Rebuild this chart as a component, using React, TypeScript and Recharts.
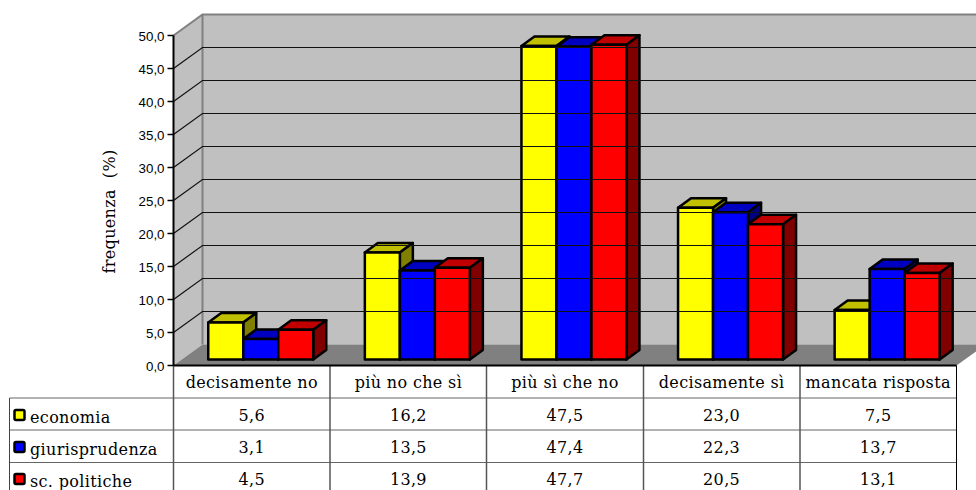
import { BarChart, Bar, XAxis, YAxis, ReferenceLine } from "recharts";

const categories = ["decisamente no", "più no che sì", "più sì che no", "decisamente sì", "mancata risposta"];
const economia = [5.6, 16.2, 47.5, 23.0, 7.5];
const giurisprudenza = [3.1, 13.5, 47.4, 22.3, 13.7];
const politiche = [4.5, 13.9, 47.7, 20.5, 13.1];
const seriesNames = ["economia", "giurisprudenza", "sc. politiche"];
const yTicks = [0, 5, 10, 15, 20, 25, 30, 35, 40, 45, 50];
const gridValues = [5, 10, 15, 20, 25, 30, 35, 40, 45];

const data = categories.map((name, i) => ({
  name,
  economia: economia[i],
  giurisprudenza: giurisprudenza[i],
  politiche: politiche[i],
}));
const rows = [economia, giurisprudenza, politiche];

const W = 976;
const H = 490;
const LEFT = 173.5;
const RIGHT = 956.5;
const TOP = 35.5;
const BASE = 365.5;
const WALL_DX = 29;
const WALL_DY = 21;
const SERIF = "'DejaVu Serif', serif";
const SANS = "'Liberation Sans', Arial, sans-serif";
const rowLines = [398, 430, 462.5];
const colLines = [173.5, 330, 486.5, 643.5, 800, 956.5];
const rowBaselines = [421, 453, 485];
const keyY = [410, 442, 474];
const keyColors = ["#ffff00", "#0000ff", "#ff0000"];
const TABLE_FONT = { fontFamily: SERIF, fontSize: 16, letterSpacing: 0.35, fill: "#000" };

const fmt = (v: number) => v.toFixed(1).replace(".", ",");

// cuboid standing on the floor, a bit behind the front edge
function box(front: string, top: string, side: string) {
  return (props: any) => {
    const { x, y, width, height } = props;
    const fx = x + 9;
    const fy = y - 6;
    const dx = 13;
    const dy = 9.5;
    return (
      <g stroke="#000" strokeWidth={2.5} strokeLinejoin="round">
        <polygon
          points={`${fx},${fy} ${fx + dx},${fy - dy} ${fx + width + dx},${fy - dy} ${fx + width},${fy}`}
          fill={top}
        />
        <polygon
          points={`${fx + width},${fy} ${fx + width + dx},${fy - dy} ${fx + width + dx},${fy + height - dy} ${fx + width},${fy + height}`}
          fill={side}
        />
        <rect x={fx} y={fy} width={width} height={height} fill={front} />
      </g>
    );
  };
}

// gridline runs up the side wall and then along the back wall
function wallLine(props: any) {
  const { x1, x2, y1 } = props;
  return (
    <polyline
      points={`${x1},${y1} ${x1 + WALL_DX},${y1 - WALL_DY} ${x2 + WALL_DX + 20},${y1 - WALL_DY}`}
      fill="none"
      stroke="#111"
      strokeWidth={1.2}
    />
  );
}

function TableTick(props: any) {
  const { x, payload, index } = props;
  return (
    <g style={TABLE_FONT} textAnchor="middle">
      <text x={x} y={388} style={TABLE_FONT}>{payload.value}</text>
      {rows.map((r, i) => (
        <text key={i} x={x} y={rowBaselines[i]} style={TABLE_FONT}>{fmt(r[index])}</text>
      ))}
    </g>
  );
}

export default function App() {
  return (
    <div style={{ position: "absolute", left: 0, top: 0, width: W, height: H, overflow: "hidden", background: "#fff" }}>
      <BarChart
        width={W}
        height={H}
        data={data}
        margin={{ top: TOP, right: W - RIGHT, bottom: 0, left: LEFT - 60 }}
        barGap={0}
        barCategoryGap={25.75}
      >
        {/* walls and floor */}
        <polygon
          points={`${LEFT + WALL_DX},${TOP - WALL_DY} ${W + 20},${TOP - WALL_DY} ${W + 20},${BASE - WALL_DY} ${LEFT + WALL_DX},${BASE - WALL_DY}`}
          fill="#c0c0c0"
        />
        <polygon
          points={`${LEFT},${TOP} ${LEFT + WALL_DX},${TOP - WALL_DY} ${LEFT + WALL_DX},${BASE - WALL_DY} ${LEFT},${BASE}`}
          fill="#c0c0c0"
        />
        <polygon
          points={`${LEFT},${BASE} ${LEFT + WALL_DX},${BASE - WALL_DY} ${RIGHT + WALL_DX},${BASE - WALL_DY} ${RIGHT},${BASE}`}
          fill="#808080"
        />
        <polyline
          points={`${LEFT},${TOP} ${LEFT + WALL_DX},${TOP - WALL_DY} ${W + 20},${TOP - WALL_DY}`}
          fill="none"
          stroke="#808080"
          strokeWidth={2}
        />
        <line x1={LEFT + WALL_DX} y1={TOP - WALL_DY} x2={LEFT + WALL_DX} y2={BASE - WALL_DY} stroke="#808080" strokeWidth={2} />
        {gridValues.map((v) => (
          <ReferenceLine key={v} y={v} shape={wallLine} />
        ))}

        {/* data table */}
        <g>
          {rowLines.map((y, i) => (
            <line key={i} x1={9.5} x2={RIGHT} y1={y} y2={y} stroke="#666" strokeWidth={1} />
          ))}
          {colLines.map((x, i) => (
            <line key={i} x1={x} x2={x} y1={BASE} y2={H} stroke={i === 5 ? "#000" : "#555"} strokeWidth={i === 5 ? 1 : 1.5} />
          ))}
          <line x1={9.5} x2={9.5} y1={398} y2={H} stroke="#444" strokeWidth={1} />
          {seriesNames.map((s, i) => (
            <g key={s}>
              <rect x={14.5} y={keyY[i]} width={10} height={10} rx={1.5} fill={keyColors[i]} stroke="#000" strokeWidth={2.5} />
              <text x={30} y={rowBaselines[i] + 2} style={TABLE_FONT}>{s}</text>
            </g>
          ))}
        </g>

        <XAxis
          dataKey="name"
          height={H - BASE}
          interval={0}
          tickLine={false}
          axisLine={{ stroke: "#000", strokeWidth: 2 }}
          tick={TableTick}
        />
        <YAxis
          width={60}
          domain={[0, 50]}
          ticks={yTicks}
          interval={0}
          tickFormatter={fmt}
          tickSize={6}
          tickMargin={3}
          tick={{ fontFamily: SANS, fontSize: 13.3, fill: "#000", dy: 1 }}
          tickLine={{ stroke: "#000", strokeWidth: 1.5 }}
          axisLine={{ stroke: "#000", strokeWidth: 2 }}
          label={{
            value: "frequenza\u00a0\u00a0(%)",
            angle: -90,
            position: "insideLeft",
            offset: -4,
            dy: 11,
            style: { fontFamily: SERIF, fontSize: 16, letterSpacing: 0.35, fill: "#000", textAnchor: "middle" },
          }}
        />
        <Bar dataKey="economia" isAnimationActive={false} shape={box("#ffff00", "#c0c000", "#808000")} />
        <Bar dataKey="giurisprudenza" isAnimationActive={false} shape={box("#0000ff", "#0000c0", "#000080")} />
        <Bar dataKey="politiche" isAnimationActive={false} shape={box("#ff0000", "#c00000", "#800000")} />
      </BarChart>
    </div>
  );
}
